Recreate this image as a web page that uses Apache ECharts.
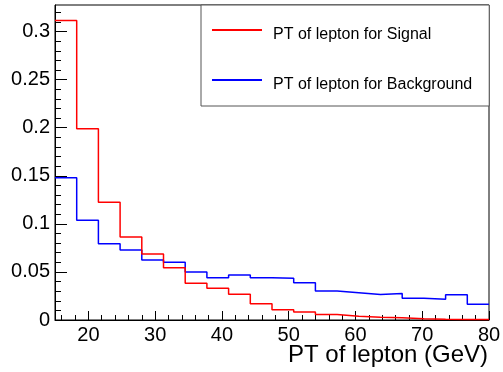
<!DOCTYPE html>
<html>
<head>
<meta charset="utf-8">
<script src="https://cdn.jsdelivr.net/npm/echarts@6/dist/echarts.min.js"></script>
<style>
html,body{margin:0;padding:0;background:#fff;}
#chart{width:503px;height:372px;}
</style>
</head>
<body>
<div id="chart"></div>
<script>
// Bin lower edges (GeV), 20 bins of width 3.25 from 15 to 80
var binLow = [15, 18.25, 21.5, 24.75, 28, 31.25, 34.5, 37.75, 41, 44.25,
              47.5, 50.75, 54, 57.25, 60.5, 63.75, 67, 70.25, 73.5, 76.75];
var binHigh = 80;
var signal = [0.3115, 0.1988, 0.1225, 0.0864, 0.0687, 0.0544, 0.0382, 0.0330, 0.0267, 0.0168,
              0.0106, 0.0083, 0.0058, 0.0038, 0.0029, 0.0024, 0.0014, 0.0009, 0.0006, 0.0004];
var background = [0.1480, 0.1037, 0.0794, 0.0728, 0.0624, 0.0600, 0.0500, 0.0440, 0.0468, 0.0440,
                  0.0433, 0.0388, 0.0302, 0.0284, 0.0266, 0.0276, 0.0227, 0.0216, 0.0263, 0.0165];
var xMajor = [20, 30, 40, 50, 60, 70, 80];
var xMinor = [16, 18, 22, 24, 26, 28, 32, 34, 36, 38, 42, 44, 46, 48, 52, 54, 56, 58, 62, 64, 66, 68, 72, 74, 76, 78];
var yMajor = [0, 0.05, 0.1, 0.15, 0.2, 0.25, 0.3];
var yMinor = [0.01, 0.02, 0.03, 0.04, 0.06, 0.07, 0.08, 0.09, 0.11, 0.12, 0.13, 0.14, 0.16, 0.17, 0.18, 0.19,
              0.21, 0.22, 0.23, 0.24, 0.26, 0.27, 0.28, 0.29, 0.31, 0.32];
var seriesNames = ['PT of lepton for Signal', 'PT of lepton for Background'];
var xTitle = 'PT of lepton (GeV)';

function histPoints(vals) {
  var pts = [];
  for (var i = 0; i < vals.length; i++) pts.push([binLow[i], vals[i]]);
  pts.push([binHigh, vals[vals.length - 1]]);
  return pts;
}

var FONT = 'Liberation Sans';
var chart = echarts.init(document.getElementById('chart'), null, {renderer: 'canvas'});
var xBase = {type: 'value', min: 15, max: 80, position: 'bottom', splitLine: {show: false}};
var yBase = {type: 'value', min: 0, max: 0.3276, position: 'left', splitLine: {show: false}};
chart.setOption({
  animation: false,
  backgroundColor: '#fff',
  grid: {left: 55, right: 14, top: 5, bottom: 52, show: true, borderColor: '#000', borderWidth: 1,
         containLabel: false, outerBoundsMode: 'none'},
  legend: {
    orient: 'vertical', left: 201, top: 5,
    padding: [16, 17, 7, 11],
    itemGap: 22, itemWidth: 50, itemHeight: 28,
    symbolKeepAspect: false,
    icon: 'path://M0,0 L0.01,0 L0,0.01 Z M0,8 L50,8 L50,10 L0,10 Z M50,28 L49.99,28 L50,27.99 Z',
    borderColor: '#555', borderWidth: 1, backgroundColor: '#fff',
    textStyle: {fontFamily: FONT, fontSize: 16, color: '#000', padding: [0, 0, 0, 6]},
    data: seriesNames
  },
  xAxis: [
    Object.assign({}, xBase, {
      name: xTitle, nameLocation: 'middle', nameGap: 23, nameMoveOverlap: false,
      nameTextStyle: {fontFamily: FONT, fontSize: 24, color: '#000', verticalAlign: 'top', padding: [0, 0, 0, 232]},
      axisLine: {show: true, lineStyle: {color: '#000', width: 1}},
      axisTick: {show: true, inside: true, length: 9, customValues: xMajor, lineStyle: {color: '#000'}},
      axisLabel: {show: true, customValues: xMajor, fontFamily: FONT, fontSize: 20, color: '#000', margin: 5},
      minorTick: {show: false}
    }),
    Object.assign({}, xBase, {
      axisLine: {show: false},
      axisTick: {show: true, inside: true, length: 5, customValues: xMinor, lineStyle: {color: '#000'}},
      axisLabel: {show: false}
    })
  ],
  yAxis: [
    Object.assign({}, yBase, {
      axisLine: {show: true, lineStyle: {color: '#000', width: 1}},
      axisTick: {show: true, inside: true, length: 12, customValues: yMajor, lineStyle: {color: '#000'}},
      axisLabel: {show: true, customValues: yMajor, fontFamily: FONT, fontSize: 20, color: '#000', margin: 5}
    }),
    Object.assign({}, yBase, {
      axisLine: {show: false},
      axisTick: {show: true, inside: true, length: 6, customValues: yMinor, lineStyle: {color: '#000'}},
      axisLabel: {show: false}
    })
  ],
  series: [
    {name: seriesNames[0], type: 'line', step: 'end', data: histPoints(signal), symbol: 'none',
     lineStyle: {color: '#ff0000', width: 1.5}, itemStyle: {color: '#ff0000'}, z: 3},
    {name: seriesNames[1], type: 'line', step: 'end', data: histPoints(background), symbol: 'none',
     lineStyle: {color: '#0000ff', width: 1.5}, itemStyle: {color: '#0000ff'}, z: 2}
  ]
});
</script>
</body>
</html>
